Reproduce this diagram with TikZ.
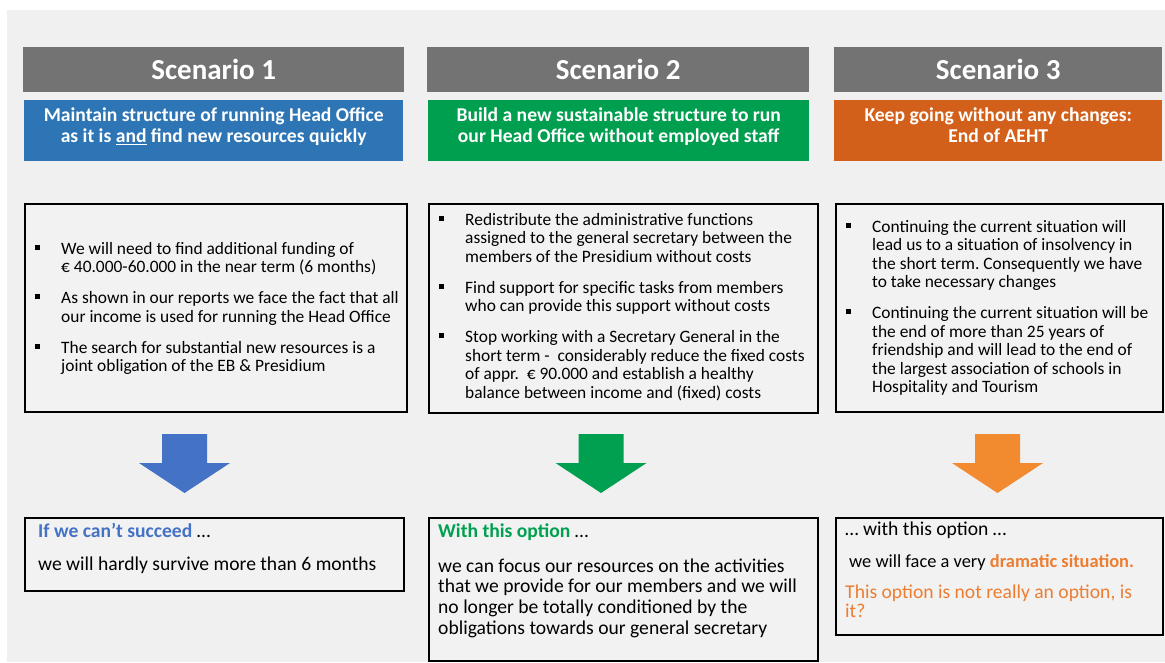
\documentclass[tikz,border=0pt]{standalone}
\usepackage{fontspec}
\setmainfont{Carlito}
\frenchspacing
\definecolor{bgc}{HTML}{F0F0F0}
\definecolor{boxfill}{HTML}{F2F2F2}
\definecolor{hdrgray}{HTML}{737373}
\definecolor{sblue}{HTML}{2E75B6}
\definecolor{sgreen}{HTML}{009E4F}
\definecolor{sorange}{HTML}{D2601A}
\definecolor{ablue}{HTML}{4472C4}
\definecolor{agreen}{HTML}{00A050}
\definecolor{aorange}{HTML}{F28A30}
\definecolor{torange}{HTML}{ED7D31}
\newcommand{\bsq}{\leavevmode\llap{\rule[4.4pt]{5pt}{5pt}\hspace{21pt}}}
\begin{document}
\begin{tikzpicture}[x=1pt,y=-1pt,
  hdr/.style={fill=hdrgray, text=white, font=\fontsize{29}{34}\selectfont\bfseries,
    minimum height=45pt, inner sep=0pt, anchor=north west},
  sub/.style={minimum height=61pt, inner sep=0pt, anchor=north west},
  subtext/.style={text=white, font=\fontsize{19.6}{21}\selectfont\bfseries, align=flush center,
    text width=#1, inner sep=0pt, anchor=base},
  tbox/.style={draw=black, line width=1.5pt, fill=boxfill, inner sep=0pt, anchor=north west},
  btext/.style={anchor=base west, inner sep=0pt, text width=#1, align=flush left,
    font=\fontsize{17.4}{18.5}\selectfont\setlength{\parskip}{12.5pt}},
  rtext/.style={anchor=base west, inner sep=0pt, text width=#1, align=flush left,
    font=\fontsize{19.6}{20.7}\selectfont},
]
\useasboundingbox (0,0) rectangle (1165,662);
\fill[white] (0,0) rectangle (1165,662);
\fill[bgc] (7,10) rectangle (1165,662);

% headers
\node[hdr, minimum width=381pt] (h1) at (23,47) {Scenario 1};
\node[hdr, minimum width=382pt] (h2) at (427,47) {Scenario 2};
\node[hdr, minimum width=328pt] (h3) at (834,47) {Scenario 3};

% coloured subtitles
\node[sub, fill=sblue, minimum width=379pt] (s1) at (24,100) {};
\node[sub, fill=sgreen, minimum width=381pt] (s2) at (428,100) {};
\node[sub, fill=sorange, minimum width=328pt] (s3) at (834,100) {};
\node[subtext=379pt] (s1t) at ([yshift=-21.5pt]s1.north) 
  {Maintain structure of running Head Office\\as it is \underline{and} find new resources quickly};
\node[subtext=381pt] (s2t) at ([yshift=-21pt]s2.north)
  {Build a new sustainable structure to run\\our Head Office without employed staff};
\node[subtext=328pt] (s3t) at ([yshift=-21.5pt]s3.north)
  {Keep going without any changes:\\End of AEHT};

% bullet boxes
\node[tbox, minimum width=382pt, minimum height=208pt] (t1) at (24,203) {};
\node[tbox, minimum width=389pt, minimum height=209pt] (t2) at (428,203) {};
\node[tbox, minimum width=327pt, minimum height=208pt] (t3) at (835,203) {};

\node[btext=345pt] (tx1) at (61,254) {%
\bsq We will need to find additional funding of\\
€ 40.000-60.000 in the near term (6 months)\par
\bsq As shown in our reports we face the fact that all\\
our income is used for running the Head Office\par
\bsq The search for substantial new resources is a\\
joint obligation of the EB \& Presidium};

\node[btext=350pt] (tx2) at (465,225) {%
\bsq Redistribute the administrative functions\\
assigned to the general secretary between the\\
members of the Presidium without costs\par
\bsq Find support for specific tasks from members\\
who can provide this support without costs\par
\bsq Stop working with a Secretary General in the\\
short term -~ considerably reduce the fixed costs\\
of appr.~ € 90.000 and establish a healthy\\
balance between income and (fixed) costs};

\node[btext=290pt] (tx3) at (872,232) {%
\bsq Continuing the current situation will\\
lead us to a situation of insolvency in\\
the short term. Consequently we have\\
to take necessary changes\par
\bsq Continuing the current situation will be\\
the end of more than 25 years of\\
friendship and will lead to the end of\\
the largest association of schools in\\
Hospitality and Tourism};

% arrows
\coordinate (a1) at (184.5,434);
\coordinate (a2) at (601,434);
\coordinate (a3) at (997.5,434);
\foreach \c/\col in {a1/ablue,a2/agreen,a3/aorange}{
  \fill[\col] ([xshift=-22.5pt]\c) -- ([xshift=22.5pt]\c) -- ([xshift=22.5pt,yshift=-29pt]\c)
    -- ([xshift=45.5pt,yshift=-29pt]\c) -- ([yshift=-59pt]\c)
    -- ([xshift=-45.5pt,yshift=-29pt]\c) -- ([xshift=-22.5pt,yshift=-29pt]\c) -- cycle;
}

% result boxes
\node[tbox, minimum width=379pt, minimum height=73pt] (r1) at (24,517) {};
\node[tbox, minimum width=389pt, minimum height=143pt] (r2) at (428,517) {};
\node[tbox, minimum width=327pt, minimum height=117pt] (r3) at (835,517) {};

\node[rtext=360pt] (rt1a) at (38,537) {{\bfseries\color{ablue}If we can’t succeed} …};
\node[rtext=360pt] (rt1b) at (38,570) {we will hardly survive more than 6 months};

\node[rtext=375pt] (rt2a) at (438,537) {{\bfseries\color{agreen}With this option} …};
\node[rtext=375pt] (rt2b) at (438,572) {we can focus our resources on the activities\\
that we provide for our members and we will\\
no longer be totally conditioned by the\\
obligations towards our general secretary};

\node[rtext=310pt] (rt3a) at (845,535) {… with this option …};
\node[rtext=310pt, font=\fontsize{18.4}{20}\selectfont] (rt3b) at (849,567)
  {we will face a very {\bfseries\color{torange}dramatic situation.}};
\node[rtext=310pt, font=\fontsize{19.6}{19.5}\selectfont, text=torange] (rt3c) at (845,598)
  {This option is not really an option, is\\it?};
\end{tikzpicture}
\end{document}
